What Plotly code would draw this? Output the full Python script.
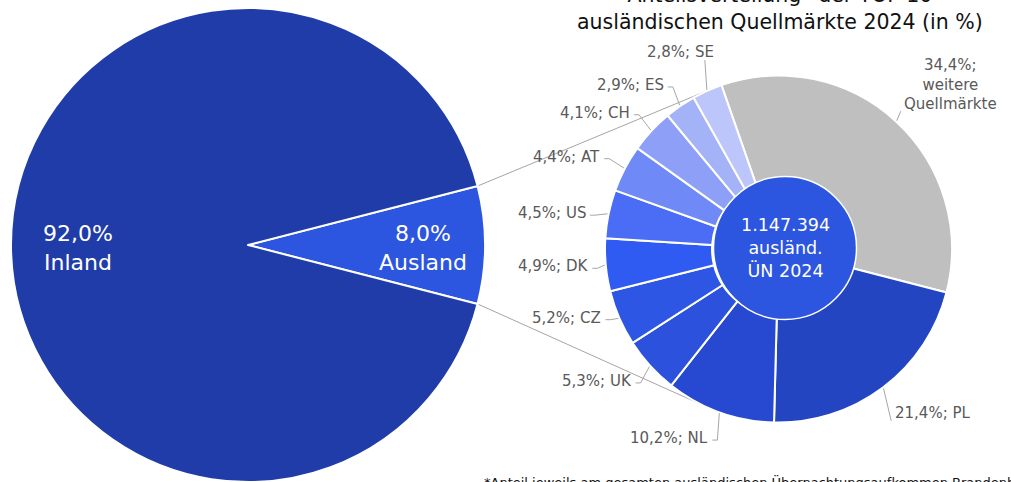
import math
import plotly.graph_objects as go

# ---------------- data ----------------
main_labels = ["Ausland", "Inland"]
main_values = [8.0, 92.0]

markets = ["weitere Quellmärkte", "PL", "NL", "UK", "CZ", "DK", "US", "AT", "CH", "ES", "SE"]
shares = [34.4, 21.4, 10.2, 5.3, 5.2, 4.9, 4.5, 4.4, 4.1, 2.9, 2.8]
total_nights = 1147394

title_lines = ["Anteilsverteilung* der TOP 10", "ausländischen Quellmärkte 2024 (in %)"]
footnote = "*Anteil jeweils am gesamten ausländischen Übernachtungsaufkommen Brandenburgs"

# ---------------- styles / layout ----------------
W, H = 1011, 482
FONT = "DejaVu Sans"
main_colors = ["#2C55E0", "#1F3CA8"]
market_colors = ["#BFBFBF", "#2445C2", "#2749D2", "#2B51DD", "#2D56E5", "#2F5BF2",
                 "#4B6CF5", "#6F89F6", "#8D9FF7", "#A4B2F8", "#BCC6FA"]

# big pie geometry (px)
BCX, BCY, BR = 248.0, 245.0, 237.0
# donut geometry (px)
DCX, DCY, DR = 778.5, 249.0, 173.5
HOLE = 66.5 / DR
DONUT_ROT = -19.2
# centre disc
CCX, CCY, CR = 785.0, 248.0, 71.5

# label placement for donut: (radius px, angle nudge deg, xanchor, yanchor)
label_place = [(182, 0, "left", "bottom"), (200, 2, "left", "middle"),
               (201, 0, "right", "middle"), (196, 0, "right", "middle"),
               (188, 2, "right", "middle"), (189, 0, "right", "middle"),
               (194, -1, "right", "middle"), (199, 0, "right", "middle"),
               (200, 0, "right", "middle"), (199, 0, "right", "middle"),
               (210, -3.5, "center", "bottom")]


def P(x, y):
    return x / W, 1 - y / H


def polar(cx, cy, r, ang):
    a = math.radians(ang)
    return cx + r * math.sin(a), cy - r * math.cos(a)


def fmt(v):
    return f"{v:.1f}".replace(".", ",")


fig = go.Figure()

# big pie: Ausland wedge centred on 3 o'clock
main_total = sum(main_values)
aus_span = main_values[0] / main_total * 360
main_rot = 90 - aus_span / 2
fig.add_trace(go.Pie(
    labels=main_labels, values=main_values, sort=False, direction="clockwise",
    rotation=main_rot, marker=dict(colors=main_colors, line=dict(color="white", width=2)),
    textinfo="none", hoverinfo="label+percent", showlegend=False,
    domain=dict(x=[(BCX - BR) / W, (BCX + BR) / W], y=[1 - (BCY + BR) / H, 1 - (BCY - BR) / H]),
))

fig.add_trace(go.Pie(
    labels=markets, values=shares, sort=False, direction="clockwise",
    rotation=DONUT_ROT, hole=HOLE,
    marker=dict(colors=market_colors, line=dict(color="white", width=2)),
    textinfo="none", hoverinfo="label+value", showlegend=False,
    domain=dict(x=[(DCX - DR) / W, (DCX + DR) / W], y=[1 - (DCY + DR) / H, 1 - (DCY - DR) / H]),
))

shapes = []
annotations = []

# connector (tangent) lines from wedge corners to donut
def tangent(px_, py_, upper):
    dx, dy = px_ - DCX, py_ - DCY
    dist = math.hypot(dx, dy)
    base = math.atan2(dy, dx)
    alpha = math.acos(DR / dist)
    cands = [(DCX + DR * math.cos(base + s * alpha), DCY + DR * math.sin(base + s * alpha)) for s in (1, -1)]
    return min(cands, key=lambda p: p[1]) if upper else max(cands, key=lambda p: p[1])

for ang, upper in ((main_rot, True), (main_rot + aus_span, False)):
    cx_, cy_ = polar(BCX, BCY, BR, ang)
    tx, ty = tangent(cx_, cy_, upper)
    x0, y0 = P(cx_, cy_)
    x1, y1 = P(tx, ty)
    shapes.append(dict(type="line", xref="paper", yref="paper", x0=x0, y0=y0, x1=x1, y1=y1,
                       line=dict(color="#A6A6A6", width=1), layer="below"))

# big pie labels
cum = 0
for lab, val, frac in zip(main_labels, main_values, (0.74, 0.717)):
    span = val / main_total * 360
    mid = main_rot + cum + span / 2
    cum += span
    x, y = polar(BCX, BCY, BR * frac, mid)
    ax, ay = P(x, y + 3)
    annotations.append(dict(x=ax, y=ay, xref="paper", yref="paper", xanchor="center", yanchor="middle",
                            text=f"{fmt(val)}%<br>{lab}", showarrow=False,
                            font=dict(family=FONT, size=22, color="white")))

# donut labels + leader lines
tot = sum(shares)
cum = 0
for lab, val, (r, nudge, xa, ya) in zip(markets, shares, label_place):
    span = val / tot * 360
    mid = DONUT_ROT + cum + span / 2
    cum += span
    ex, ey = polar(DCX, DCY, DR + 1, mid)
    lx, ly = polar(DCX, DCY, r, mid + nudge)
    if lab == "weitere Quellmärkte":
        txt = f"{fmt(val)}%;<br>weitere<br>Quellmärkte"
        path_pts = [(lx - 1, ly - 4), (ex, ey)]
    elif xa == "right":
        txt = f"{fmt(val)}%; {lab}"
        path_pts = [(lx + 2, ly + 2), (lx + 7, ly + 2), (ex, ey)]
    elif xa == "left":
        txt = f"{fmt(val)}%; {lab}"
        path_pts = [(lx - 2, ly + 8), (ex, ey)]
    else:
        txt = f"{fmt(val)}%; {lab}"
        path_pts = [(ex - 2, ly - 3), (ex, ey)]
    ax, ay = P(lx, ly)
    annotations.append(dict(x=ax, y=ay, xref="paper", yref="paper", xanchor=xa, yanchor=ya,
                            text=txt, showarrow=False, align="center",
                            font=dict(family=FONT, size=15, color="#595959")))
    path = "M " + " L ".join(f"{P(a, b)[0]:.5f},{P(a, b)[1]:.5f}" for a, b in path_pts)
    shapes.append(dict(type="path", xref="paper", yref="paper", path=path,
                       line=dict(color="#A6A6A6", width=1), layer="above"))

# centre disc
x0, y1 = P(CCX - CR, CCY - CR)
x1, y0 = P(CCX + CR, CCY + CR)
shapes.append(dict(type="circle", xref="paper", yref="paper", x0=x0, y0=y0, x1=x1, y1=y1,
                   fillcolor="#2C55E0", line=dict(color="white", width=1.5), layer="above"))
nights_txt = f"{total_nights:,}".replace(",", ".")
cx_, cy_ = P(CCX, CCY)
annotations.append(dict(x=cx_, y=cy_, xref="paper", yref="paper", xanchor="center", yanchor="middle",
                        text=f"{nights_txt}<br>ausländ.<br>ÜN 2024", showarrow=False,
                        font=dict(family=FONT, size=17.5, color="white")))

# title (top line partly outside the picture)
tx, ty = P(DCX + 1.5, 36)
annotations.append(dict(x=tx, y=ty, xref="paper", yref="paper", xanchor="center", yanchor="bottom",
                        text="<br>".join(title_lines), showarrow=False,
                        font=dict(family=FONT, size=20.5, color="#111111")))

# footnote (partly cut at bottom)
fx, fy = P(482, 472)
annotations.append(dict(x=fx, y=fy, xref="paper", yref="paper", xanchor="left", yanchor="top",
                        text=footnote, showarrow=False,
                        font=dict(family=FONT, size=13, color="#111111")))

fig.update_layout(width=W, height=H, margin=dict(l=0, r=0, t=0, b=0),
                  paper_bgcolor="white", plot_bgcolor="white",
                  shapes=shapes, annotations=annotations, showlegend=False)

fig.write_html("out.html", config={"displayModeBar": False},
               post_script="document.body.style.margin='0';")
